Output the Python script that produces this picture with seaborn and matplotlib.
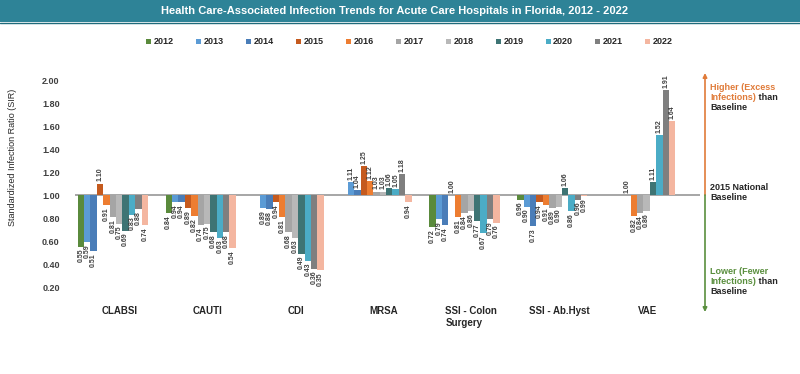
"""
Tendencias de infeccoes associadas a assistencia (SIR) em hospitais da Florida.
Barras desenhadas a partir da linha de base 1.00 (SIR - 1), eixo reetiquetado.
"""

import numpy as np
import pandas as pd
import matplotlib
matplotlib.use("Agg")
import matplotlib.pyplot as plt
import matplotlib.transforms as mtransforms
from matplotlib.patches import Rectangle
from matplotlib.lines import Line2D
import seaborn as sns

# ---------------------------------------------------------------------------
# Dados
# ---------------------------------------------------------------------------

CATEGORIES = ["CLABSI", "CAUTI", "CDI", "MRSA", "SSI - Colon\nSurgery", "SSI - Ab.Hyst", "VAE"]
YEARS = ["2012", "2013", "2014", "2015", "2016", "2017", "2018", "2019", "2020", "2021", "2022"]

nan = np.nan
SIR_2012 = [0.55, 0.84, nan, nan, 0.72, 0.96, nan]
SIR_2013 = [0.59, 0.94, 0.89, 1.11, 0.79, 0.90, nan]
SIR_2014 = [0.51, 0.94, 0.88, 1.04, 0.74, 0.73, nan]
SIR_2015 = [1.10, 0.89, 0.94, 1.25, 1.00, 0.94, 1.00]
SIR_2016 = [0.91, 0.82, 0.81, 1.12, 0.81, 0.91, 0.82]
SIR_2017 = [0.81, 0.74, 0.68, 1.03, 0.84, 0.89, 0.84]
SIR_2018 = [0.75, 0.75, 0.63, 1.03, 0.86, 0.90, 0.86]
SIR_2019 = [0.69, 0.68, 0.49, 1.06, 0.77, 1.06, 1.11]
SIR_2020 = [0.83, 0.63, 0.43, 1.05, 0.67, 0.86, 1.52]
SIR_2021 = [0.88, 0.68, 0.36, 1.18, 0.79, 0.96, 1.91]
SIR_2022 = [0.74, 0.54, 0.35, 0.94, 0.76, 0.99, 1.64]

SIR_BY_YEAR = [SIR_2012, SIR_2013, SIR_2014, SIR_2015, SIR_2016, SIR_2017,
               SIR_2018, SIR_2019, SIR_2020, SIR_2021, SIR_2022]

Y_TICKS = [0.20, 0.40, 0.60, 0.80, 1.00, 1.20, 1.40, 1.60, 1.80, 2.00]
BASELINE = 1.0

COLORS = ["#5a8a3c", "#5b9bd5", "#4a7db8", "#c55a1e", "#ed7d31", "#a5a5a5",
          "#b8b8b8", "#3e7474", "#4bacc6", "#7f7f7f", "#f4b6a0"]

TEAL = "#2e8397"
ORANGE = "#e07b39"
GREEN = "#5a8f3e"
DARK = "#262626"
TICK_COLOR = "#404040"

# formato longo para o seaborn
linhas = []
for ano, valores in zip(YEARS, SIR_BY_YEAR):
    for cat, v in zip(CATEGORIES, valores):
        linhas.append({"category": cat, "year": ano, "sir": v})
df = pd.DataFrame(linhas).dropna()
df["dev"] = df["sir"] - BASELINE

# ---------------------------------------------------------------------------
# Figura
# ---------------------------------------------------------------------------

sns.set_style("white")
plt.rcParams["font.family"] = ["Liberation Sans", "DejaVu Sans"]

W, H = 800, 374
fig = plt.figure(figsize=(W / 100, H / 100), dpi=100)
ax = fig.add_axes([75 / W, 1 - 302 / H, 625 / W, 233.5 / H])

sns.barplot(
    data=df, x="category", y="dev", hue="year",
    order=CATEGORIES, hue_order=YEARS, palette=COLORS,
    saturation=1, width=0.8, linewidth=0, errorbar=None, ax=ax,
)

ax.set_xlim(-0.43, 6.68)
ax.set_ylim(0.07 - BASELINE, 2.1 - BASELINE)
ax.axhline(0, color="#a6a6a6", lw=1.4, zorder=0.5)
sns.despine(ax=ax, left=True, bottom=True)

# rotulos de valor nas barras
for cont in ax.containers:
    for bar in cont:
        h = bar.get_height()
        if np.isnan(h):
            continue
        xc = bar.get_x() + bar.get_width() / 2
        acima = h >= 0
        ax.annotate(
            f"{h + BASELINE:.2f}", (xc, h),
            xytext=(0, 1.5 if acima else -1.5), textcoords="offset points",
            rotation=90, ha="center", va="bottom" if acima else "top",
            fontsize=5, fontweight="bold", color=TICK_COLOR,
        )

# eixos
ax.set_yticks([t - BASELINE for t in Y_TICKS])
ax.set_yticklabels([f"{t:.2f}" for t in Y_TICKS])
ax.tick_params(axis="y", length=0, pad=11, labelsize=6.5, labelcolor=TICK_COLOR)
ax.tick_params(axis="x", length=0, pad=3, labelsize=7, labelcolor=DARK)
for lab in ax.get_yticklabels():
    lab.set_fontweight("bold")
offset = mtransforms.ScaledTranslation(7 / 100, 0, fig.dpi_scale_trans)
for lab in ax.get_xticklabels():
    lab.set_fontweight("bold")
    lab.set_multialignment("left")
    lab.set_transform(lab.get_transform() + offset)
ax.set_xlabel("")
ax.set_ylabel("")
fig.text(13 / W, 0.58, "Standardized Infection Ratio (SIR)", rotation=90,
         ha="center", va="center", fontsize=6.5, color=DARK)

# legenda
ax.legend(
    loc="center", bbox_to_anchor=(0.512, 1 - 42 / H), bbox_transform=fig.transFigure,
    ncol=len(YEARS), frameon=False, prop={"weight": "bold", "size": 6.5},
    handlelength=0.55, handleheight=0.55, handletextpad=0.3, columnspacing=2.45,
)

# faixa do titulo
fig.add_artist(Rectangle((0, 1 - 22 / H), 1, 22 / H, transform=fig.transFigure,
                         facecolor=TEAL, edgecolor="none", zorder=0))
fig.add_artist(Line2D([0, 1], [1 - 22.5 / H] * 2, transform=fig.transFigure,
                      color="#1f6b7c", lw=1))
fig.text(0.493, 1 - 11 / H,
         "Health Care-Associated Infection Trends for Acute Care Hospitals in Florida, 2012 - 2022",
         ha="center", va="center", color="white", fontsize=8, fontweight="bold")

# seta de referencia a direita
ax_x = 705 / W
for topo, cor in [(1 - 73 / H, ORANGE), (1 - 312 / H, GREEN)]:
    ax.annotate("", xy=(ax_x, topo), xycoords="figure fraction",
                xytext=(ax_x, 0), textcoords=("figure fraction", "data"),
                arrowprops=dict(arrowstyle="-|>", color=cor, lw=1.2,
                                mutation_scale=6, shrinkA=0, shrinkB=0),
                annotation_clip=False)

tx = 710 / W
txt_kw = dict(fontsize=6.5, fontweight="bold", va="center")


def bloco(y_px, linhas_txt):
    """Escreve linhas com trechos coloridos lado a lado."""
    for i, trechos in enumerate(linhas_txt):
        y = 1 - (y_px + i * 10) / H
        prev = None
        for texto, cor in trechos:
            if prev is None:
                prev = fig.text(tx, y, texto, color=cor, ha="left", **txt_kw)
            else:
                prev = ax.annotate(texto, xy=(1, 0.5), xycoords=prev, color=cor,
                                   ha="left", annotation_clip=False, **txt_kw)


bloco(88, [[("Higher (Excess", ORANGE)],
           [("Infections)", ORANGE), (" than", DARK)],
           [("Baseline", DARK)]])
bloco(188, [[("2015 National", DARK)], [("Baseline", DARK)]])
bloco(272, [[("Lower (Fewer", GREEN)],
            [("Infections)", GREEN), (" than", DARK)],
            [("Baseline", DARK)]])

fig.savefig("out.png", dpi=100, facecolor="white")
